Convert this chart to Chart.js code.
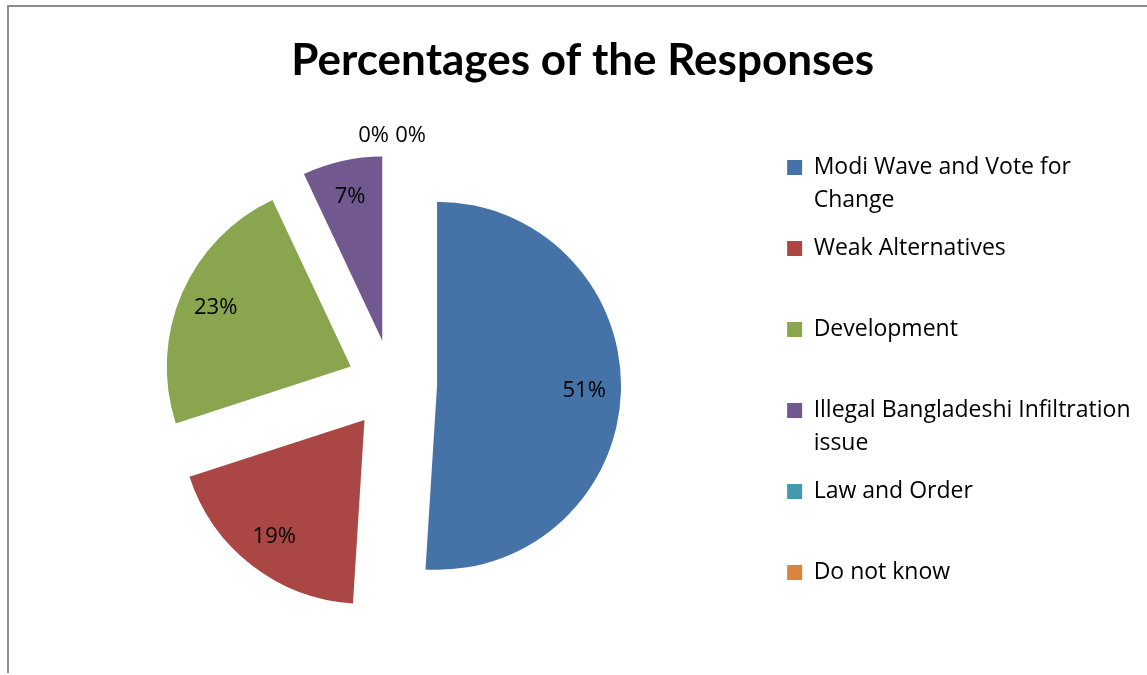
<!DOCTYPE html>
<html>
<head>
<meta charset="utf-8">
<title>Percentages of the Responses</title>
<script src="https://cdn.jsdelivr.net/npm/chart.js@4.4.1/dist/chart.umd.min.js"></script>
<style>
  html, body { margin: 0; padding: 0; background: #ffffff; overflow: hidden; width: 1147px; height: 675px; }
  #frame { position: absolute; left: 7px; top: 5px; width: 1200px; height: 666px;
           border-left: 2px solid #8c8c8c; border-top: 2px solid #8c8c8c; }
  #chart { position: absolute; left: 0; top: 0; }
</style>
</head>
<body>
<div id="frame"></div>
<canvas id="chart" width="1147" height="675"></canvas>
<script>
// Survey answers and their share of responses (%)
const categories = [
  "Modi Wave and Vote for Change",
  "Weak Alternatives",
  "Development",
  "Illegal Bangladeshi Infiltration issue",
  "Law and Order",
  "Do not know"
];
const percentages = [51, 19, 23, 7, 0, 0];
const sliceColors = ["#4572A7", "#AA4643", "#89A54E", "#71588F", "#4198AF", "#DB843D"];
const chartTitle = "Percentages of the Responses";

// Styling constants
const TITLE_FONT = "Lato";
const TEXT_FONT = "Open Sans";
const LABEL_SIZE = 22;
const LEGEND_SIZE = 23;
const EXPLODE = 45;        // distance each slice is pulled away from the centre
const PIE_RADIUS = 184;
const LEGEND_WRAP = 330;   // max legend text width before wrapping
const LEGEND_LINES = 2;    // every legend entry occupies the same number of lines

function wrapText(ctx, text, maxWidth) {
  const words = text.split(" ");
  const lines = [];
  let line = "";
  words.forEach(w => {
    const test = line ? line + " " + w : w;
    if (line && ctx.measureText(test).width > maxWidth) {
      lines.push(line);
      line = w;
    } else {
      line = test;
    }
  });
  if (line) lines.push(line);
  return lines;
}

// Pull every non-empty slice outward along its bisector (exploded pie)
const explodePlugin = {
  id: "explodeSlices",
  afterDatasetUpdate(chart, args) {
    args.meta.data.forEach(arc => {
      if (arc.circumference <= 0) return;
      const mid = (arc.startAngle + arc.endAngle) / 2;
      arc.x += EXPLODE * Math.cos(mid);
      arc.y += EXPLODE * Math.sin(mid);
    });
  }
};

// Percentage labels inside the slices; empty slices are labelled just above the pie
const sliceLabelPlugin = {
  id: "sliceLabels",
  afterDatasetsDraw(chart) {
    const ctx = chart.ctx;
    const meta = chart.getDatasetMeta(0);
    const data = chart.data.datasets[0].data;
    const total = data.reduce((a, b) => a + b, 0);
    ctx.save();
    ctx.font = LABEL_SIZE + "px '" + TEXT_FONT + "'";
    ctx.fillStyle = "#000000";
    ctx.textAlign = "center";
    ctx.textBaseline = "middle";
    const empty = [];
    meta.data.forEach((arc, i) => {
      const text = Math.round(data[i] / total * 100) + "%";
      const mid = (arc.startAngle + arc.endAngle) / 2;
      if (data[i] > 0) {
        const r = arc.outerRadius * 0.8;
        ctx.fillText(text, arc.x + r * Math.cos(mid), arc.y + r * Math.sin(mid));
      } else {
        empty.push({ arc, text, mid });
      }
    });
    empty.forEach((e, k) => {
      const r = e.arc.outerRadius + EXPLODE + 20;
      const shift = (k - (empty.length - 1) / 2) * 37;
      ctx.fillText(e.text, e.arc.x + r * Math.cos(e.mid) + shift, e.arc.y + r * Math.sin(e.mid));
    });
    ctx.restore();
  }
};

new Chart(document.getElementById("chart"), {
  type: "pie",
  data: {
    labels: categories,
    datasets: [{
      data: percentages,
      backgroundColor: sliceColors,
      borderWidth: 0
    }]
  },
  options: {
    responsive: false,
    animation: false,
    events: [],
    radius: PIE_RADIUS,
    layout: { padding: { left: 12, right: -6.5, top: 0, bottom: 0 } },
    plugins: {
      title: {
        display: true,
        text: chartTitle,
        color: "#000000",
        font: { family: TITLE_FONT, size: 44, weight: "bold", lineHeight: 1.2 },
        padding: { top: 34, bottom: 7 }
      },
      // empty right-hand margin box beside the legend
      subtitle: {
        display: true,
        text: "",
        position: "right",
        fullSize: false,
        font: { size: 1, lineHeight: 1 },
        padding: { top: 6, bottom: 6 }
      },
      legend: {
        position: "right",
        align: "center",
        fullSize: false,
        maxWidth: 400,
        title: { display: true, text: "", padding: { top: 13, bottom: 0 }, font: { size: 1, lineHeight: 1 } },
        labels: {
          boxWidth: 15,
          boxHeight: 15,
          padding: 15,
          color: "#000000",
          font: { family: TEXT_FONT, size: LEGEND_SIZE, lineHeight: 33 / LEGEND_SIZE },
          generateLabels(chart) {
            const items = Chart.overrides.pie.plugins.legend.labels.generateLabels(chart);
            const ctx = chart.ctx;
            ctx.save();
            ctx.font = LEGEND_SIZE + "px '" + TEXT_FONT + "'";
            items.forEach(item => {
              const lines = wrapText(ctx, String(item.text), LEGEND_WRAP);
              while (lines.length < LEGEND_LINES) lines.push("");
              item.text = lines;
            });
            ctx.restore();
            return items;
          }
        }
      },
      tooltip: { enabled: false }
    }
  },
  plugins: [explodePlugin, sliceLabelPlugin]
});
</script>
</body>
</html>
